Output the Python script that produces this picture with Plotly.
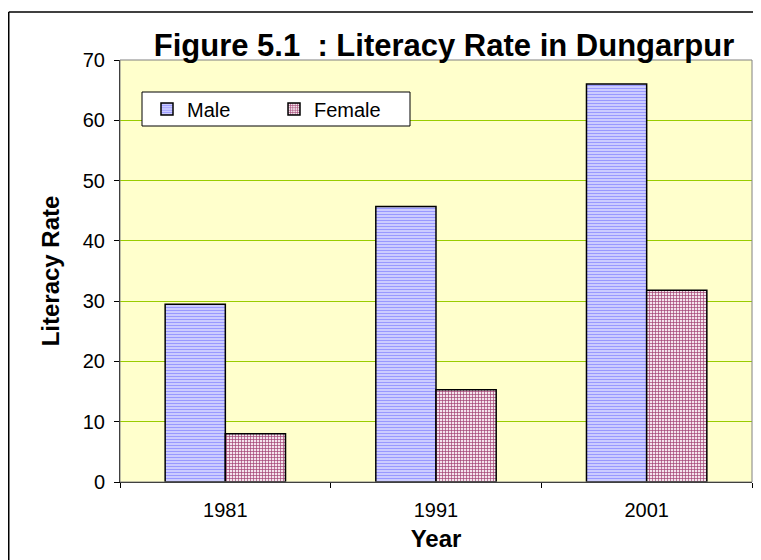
import plotly.graph_objects as go

years = ["1981", "1991", "2001"]
male = [29.5, 45.7, 66.0]
female = [8.0, 15.3, 31.8]
y_ticks = [0, 10, 20, 30, 40, 50, 60, 70]

# page has an 8px body margin; work in page pixels and convert
OFF = 8
W, H = 753, 552
L, R, T, B = 112, 9, 52, 78
pw, ph = W - L - R, H - T - B

def px_x(x_page):
    return (x_page - OFF - L) / pw

def px_y(y_page):
    return (H - B - (y_page - OFF)) / ph

fig = go.Figure()
fig.add_trace(go.Bar(
    x=years, y=male, name="Male",
    marker=dict(color="#CCCCFF", line=dict(color="black", width=1.5),
                pattern=dict(shape="-", fgcolor="#9999FF", bgcolor="#CCCCFF",
                             size=3, solidity=0.35, fillmode="replace")),
))
fig.add_trace(go.Bar(
    x=years, y=female, name="Female",
    marker=dict(color="#F0DCE6", line=dict(color="black", width=1.5),
                pattern=dict(shape="+", fgcolor="#A04070", bgcolor="#F4E4EC",
                             size=3, solidity=0.4, fillmode="replace")),
))

font = "Arial, Liberation Sans, sans-serif"
fig.update_layout(
    width=W, height=H,
    margin=dict(l=L, r=R, t=T, b=B),
    paper_bgcolor="white", plot_bgcolor="#FFFFCC",
    barmode="group", bargap=0.4286, bargroupgap=0,
    font=dict(family=font, color="black"),
    title=dict(text="<b>Figure 5.1  : Literacy Rate in Dungarpur</b>",
               font=dict(size=31, family=font, color="black"),
               xref="paper", x=px_x(444), xanchor="center",
               yref="container", y=1 - (45 - OFF) / H, yanchor="middle"),
    showlegend=True,
    legend=dict(orientation="h", x=px_x(147), y=px_y(109), xanchor="left", yanchor="middle",
                bgcolor="rgba(0,0,0,0)", borderwidth=0,
                font=dict(size=20, family=font), entrywidth=82, traceorder="normal"),
    xaxis=dict(showline=True, linecolor="black", linewidth=1, ticks="outside",
               tickson="boundaries", ticklen=5, tickcolor="black",
               tickfont=dict(size=20), showgrid=False, ticklabelstandoff=10,
               title=dict(text="<b>Year</b>", font=dict(size=24), standoff=10)),
    yaxis=dict(range=[0, 70], tickvals=y_ticks, showline=True, linecolor="black",
               linewidth=1, ticks="outside", ticklen=5, tickcolor="black",
               tickfont=dict(size=20), showgrid=True, gridcolor="#99CC00", gridwidth=1,
               zeroline=False, ticklabelstandoff=5,
               title=dict(text="<b>Literacy Rate</b>", font=dict(size=24), standoff=16)),
)

# plot area border (gray top/right)
fig.add_shape(type="rect", xref="paper", yref="paper", x0=0, x1=1, y0=0, y1=1,
              line=dict(color="#808080", width=1), layer="above")
# legend frame
fig.add_shape(type="rect", xref="paper", yref="paper", x0=px_x(142), x1=px_x(410),
              y0=px_y(126), y1=px_y(92), fillcolor="white",
              line=dict(color="black", width=1), layer="above")
# outer chart frame (top and left edges visible)
fig.add_shape(type="line", xref="paper", yref="paper", x0=px_x(8.75), x1=px_x(800),
              y0=px_y(12), y1=px_y(12), line=dict(color="black", width=1.5))
fig.add_shape(type="line", xref="paper", yref="paper", x0=px_x(8.75), x1=px_x(8.75),
              y0=px_y(12), y1=px_y(600), line=dict(color="black", width=1.5))

fig.write_html("out.html")
